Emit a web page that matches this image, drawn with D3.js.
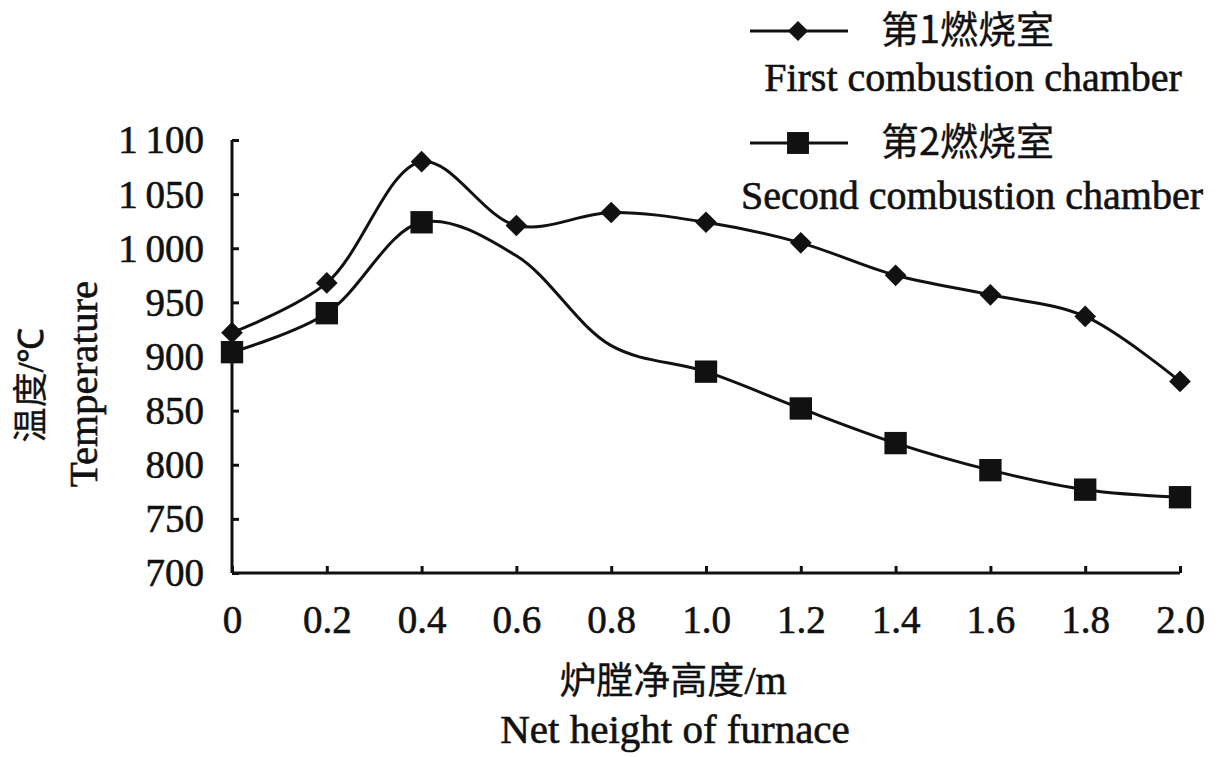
<!DOCTYPE html>
<html>
<head>
<meta charset="utf-8">
<script src="https://cdn.jsdelivr.net/npm/d3@7"></script>
<style>
  html, body { margin: 0; padding: 0; background: #fff; }
  svg text { font-family: "Liberation Serif", "Times New Roman", serif; fill: #111; stroke: #111; stroke-width: 0.6px; }
  svg text .cjk, svg text.cjk { font-family: "Noto Sans CJK SC", sans-serif; }
</style>
</head>
<body>
<div id="chart"></div>
<script>
// furnace height (m)
var heights = [0, 0.2, 0.4, 0.6, 0.8, 1.0, 1.2, 1.4, 1.6, 1.8, 2.0];
// first combustion chamber temperature (°C)
var firstChamber = [922, 968, 1080, 1021, 1033, 1024, 1005, 975, 957, 937, 877];
// second combustion chamber temperature (°C)
var secondChamber = [904, 940, 1024, 993, 910, 886, 852, 820, 795, 777, 770];
// second series has no marker at 0.6 and 0.8
var secondMarked = [true, true, true, false, false, true, true, true, true, true, true];

var xTicks = [0, 0.2, 0.4, 0.6, 0.8, 1.0, 1.2, 1.4, 1.6, 1.8, 2.0];
var yTicks = [700, 750, 800, 850, 900, 950, 1000, 1050, 1100];

var width = 1220, height = 757;
var margin = {top: 140, right: 40, bottom: 184, left: 232};

var svg = d3.select('#chart').append('svg')
    .attr('width', width)
    .attr('height', height);

var x = d3.scaleLinear().domain([0, 2]).range([margin.left, width - margin.right]);
var y = d3.scaleLinear().domain([700, 1100]).range([height - margin.bottom, margin.top]);

// format "1 100" with a space for thousands
var fmtY = function(d) {
  return d >= 1000 ? Math.floor(d / 1000) + '\u2009' + d3.format('03d')(d % 1000) : d;
};
var fmtX = function(d) { return d === 0 ? '0' : d3.format('.1f')(d); };

// y axis, ticks pointing inside
var yAxis = svg.append('g')
    .attr('transform', 'translate(' + margin.left + ',0)')
    .call(d3.axisRight(y).tickValues(yTicks).tickSize(7).tickFormat(fmtY));
yAxis.select('.domain').attr('stroke-width', 3).attr('d', 'M0,' + y(1100) + 'V' + y(700));
yAxis.selectAll('.tick line').attr('stroke-width', 3);
yAxis.selectAll('.tick text')
    .attr('x', -28)
    .attr('dy', '0.33em')
    .attr('text-anchor', 'end')
    .attr('fill', '#111')
    .style('font-size', '39px');

// x axis, ticks pointing up
var xAxis = svg.append('g')
    .attr('transform', 'translate(0,' + y(700) + ')')
    .call(d3.axisTop(x).tickValues(xTicks).tickSize(7).tickFormat(fmtX));
xAxis.select('.domain').attr('stroke-width', 3).attr('d', 'M' + x(0) + ',0H' + x(2));
xAxis.selectAll('.tick line').attr('stroke-width', 3);
xAxis.selectAll('.tick text')
    .attr('y', 60)
    .attr('dy', 0)
    .attr('fill', '#111')
    .style('font-size', '39px');
svg.selectAll('.domain, .tick line').attr('stroke', '#111');
svg.selectAll('g').attr('font-family', null).attr('font-size', null);

// lines
var line = d3.line()
    .curve(d3.curveCatmullRom.alpha(0.5))
    .x(function(d, i) { return x(heights[i]); })
    .y(function(d) { return y(d); });

[firstChamber, secondChamber].forEach(function(s) {
  svg.append('path')
      .datum(s)
      .attr('fill', 'none')
      .attr('stroke', '#111')
      .attr('stroke-width', 3)
      .attr('stroke-linejoin', 'round')
      .attr('d', line);
});

var diamond = d3.symbol().type(d3.symbolDiamond2).size(300);
var square = d3.symbol().type(d3.symbolSquare).size(500);

svg.selectAll('.m1')
    .data(firstChamber)
  .enter().append('path')
    .attr('class', 'm1')
    .attr('d', diamond)
    .attr('fill', '#111')
    .attr('transform', function(d, i) { return 'translate(' + x(heights[i]) + ',' + y(d) + ')'; });

svg.selectAll('.m2')
    .data(secondChamber.map(function(d, i) { return {v: d, h: heights[i], on: secondMarked[i]}; })
      .filter(function(d) { return d.on; }))
  .enter().append('path')
    .attr('class', 'm2')
    .attr('d', square)
    .attr('fill', '#111')
    .attr('transform', function(d) { return 'translate(' + x(d.h) + ',' + y(d.v) + ')'; });

// legend
var legend = [
  {cn: '第1燃烧室', en: 'First combustion chamber', ly: 31, enY: 91, enX: 973},
  {cn: '第2燃烧室', en: 'Second combustion chamber', ly: 143, enY: 209, enX: 972}
];
legend.forEach(function(d, i) {
  var g = svg.append('g');
  g.append('line')
      .attr('x1', 750).attr('x2', 848)
      .attr('y1', d.ly).attr('y2', d.ly)
      .attr('stroke', '#111').attr('stroke-width', 3);
  g.append('path')
      .attr('d', i === 0 ? d3.symbol().type(d3.symbolDiamond2).size(260)() : d3.symbol().type(d3.symbolSquare).size(480)())
      .attr('fill', '#111')
      .attr('transform', 'translate(798,' + d.ly + ')');
  g.append('text')
      .attr('class', 'cjk')
      .attr('x', 881).attr('y', d.ly - 2)
      .attr('dy', '0.36em')
      .style('font-size', '38px')
      .style('stroke-width', '0.3px')
      .text(d.cn);
  g.append('text')
      .attr('x', d.enX).attr('y', d.enY)
      .attr('text-anchor', 'middle')
      .style('font-size', '40px')
      .text(d.en);
});

// axis titles
var yt = svg.append('text')
    .attr('transform', 'translate(30,385) rotate(-90)')
    .attr('text-anchor', 'middle')
    .attr('dy', '0.36em')
    .style('font-size', '35px');
yt.append('tspan').attr('class', 'cjk').style('stroke-width', '0.3px').text('温度');
yt.append('tspan').text('/℃');
svg.append('text')
    .attr('transform', 'translate(83,384) rotate(-90)')
    .attr('text-anchor', 'middle')
    .attr('dy', '0.34em')
    .style('font-size', '41px')
    .text('Temperature');

var xt = svg.append('text')
    .attr('x', 673).attr('y', 681)
    .attr('text-anchor', 'middle')
    .attr('dy', '0.36em')
    .style('font-size', '37px');
xt.append('tspan').attr('class', 'cjk').style('stroke-width', '0.3px').text('炉膛净高度');
xt.append('tspan').style('font-size', '40px').text('/m');
svg.append('text')
    .attr('x', 675).attr('y', 743)
    .attr('text-anchor', 'middle')
    .style('font-size', '41px')
    .text('Net height of furnace');
</script>
</body>
</html>
